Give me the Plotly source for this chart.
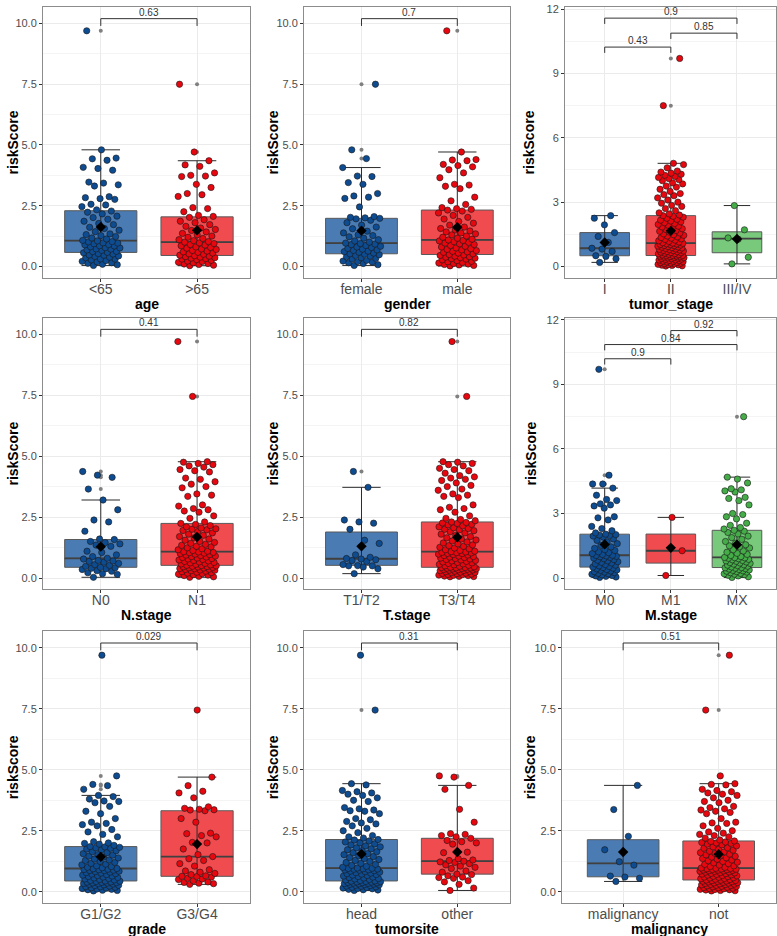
import numpy as np
import plotly.graph_objects as go
from plotly.subplots import make_subplots

# ---------------- data (riskScore per group) ----------------
age_lt65 = [0.04,0.07,0.09,0.13,0.15,0.19,0.21,0.24,0.27,0.30,0.31,0.36,0.38,0.41,0.43,0.46,0.47,0.51,0.53,0.56,
            0.58,0.61,0.62,0.66,0.68,0.71,0.72,0.76,0.77,0.81,0.84,0.85,0.89,0.90,0.93,0.96,0.97,1.01,1.02,1.05,
            1.07,1.13,1.17,1.23,1.27,1.31,1.34,1.43,1.49,1.56,1.61,1.72,1.77,1.86,1.94,2.01,2.07,2.16,2.23,2.28,
            2.33,2.46,2.53,2.56,2.76,2.79,2.83,2.87,3.31,3.36,3.43,3.47,3.96,4.03,4.08,4.37,4.43,4.46,4.80,9.70]
age_gt65 = [0.03,0.05,0.08,0.10,0.12,0.15,0.17,0.20,0.22,0.25,0.28,0.30,0.32,0.34,0.36,0.38,0.40,0.42,0.44,
            0.46,0.50,0.52,0.55,0.58,0.60,0.63,0.66,0.70,0.72,0.75,0.78,0.80,0.85,0.88,0.90,0.94,0.97,1.00,
            1.02,1.06,1.10,1.15,1.20,1.25,1.30,1.36,1.42,1.48,1.52,1.58,1.65,1.72,1.80,1.86,1.92,2.02,2.06,
            2.10,2.25,2.38,2.42,2.88,2.95,3.00,3.25,3.38,3.70,3.72,3.75,3.85,4.12,4.18,4.35,4.71,7.50]
gender_female = [0.04,0.07,0.12,0.15,0.18,0.20,0.22,0.25,0.30,0.33,0.36,0.40,0.42,0.45,0.48,0.50,0.52,
                 0.55,0.58,0.61,0.63,0.66,0.68,0.71,0.74,0.78,0.80,0.83,0.86,0.90,0.92,0.94,0.96,
                 1.00,1.05,1.10,1.16,1.22,1.27,1.30,1.38,1.45,1.55,1.62,1.70,1.80,1.90,1.96,1.98,
                 2.00,2.02,2.05,2.45,2.80,2.85,2.90,3.00,3.38,3.45,3.70,3.72,4.07,4.44,4.80,7.50]
gender_male = [0.02,0.04,0.06,0.08,0.10,0.12,0.14,0.16,0.19,0.21,0.24,0.27,0.30,0.32,0.34,0.36,0.38,0.40,0.42,0.45,0.47,
               0.49,0.52,0.55,0.58,0.60,0.62,0.65,0.68,0.70,0.73,0.76,0.80,0.83,0.86,0.90,0.93,0.96,0.99,1.02,1.05,1.07,
               1.09,1.12,1.16,1.20,1.25,1.30,1.34,1.38,1.42,1.46,1.50,1.56,1.62,1.70,1.78,1.85,1.95,2.02,2.10,2.20,2.28,
               2.32,2.35,2.38,2.42,2.55,2.70,2.85,3.20,3.30,3.35,3.38,3.65,3.85,3.98,4.10,4.15,4.20,4.35,4.38,4.40,4.71,9.70]
stage_I = [0.19,0.36,0.47,0.50,0.70,0.81,0.85,1.12,1.40,1.58,1.94,2.25,2.37]
stage_II = [0.02,0.03,0.05,0.06,0.08,0.09,0.10,0.12,0.13,0.15,0.16,0.18,0.19,0.21,0.22,0.24,0.25,0.27,0.28,0.30,
            0.31,0.33,0.34,0.36,0.37,0.39,0.40,0.41,0.43,0.44,0.45,0.46,0.48,0.49,0.50,0.51,
            0.52,0.54,0.55,0.57,0.59,0.60,0.62,0.64,0.65,0.67,0.69,0.70,0.72,0.74,0.75,0.77,0.79,0.80,0.82,0.84,
            0.86,0.88,0.90,0.91,0.93,0.95,0.97,0.98,1.00,1.02,1.03,1.05,1.06,1.08,1.09,
            1.11,1.14,1.17,1.20,1.23,1.26,1.29,1.32,1.35,1.38,1.42,1.45,1.48,1.52,1.56,1.60,1.64,1.68,1.72,1.76,
            1.80,1.84,1.88,1.92,1.96,2.00,2.04,2.08,2.12,2.16,2.20,2.25,2.30,2.34,2.37,
            2.40,2.45,2.50,2.60,2.70,2.80,2.85,2.95,3.00,3.10,3.20,3.30,3.35,3.40,3.50,3.60,3.70,3.75,3.85,3.90,
            4.00,4.05,4.10,4.15,4.20,4.25,4.30,4.35,4.40,4.45,4.60,4.75,4.81,7.50,9.70]
stage_III_IV = [0.12,0.43,1.27,1.33,1.71,2.84]
N0 = [0.03,0.15,0.18,0.22,0.28,0.30,0.35,0.38,0.40,0.42,0.44,0.48,0.52,0.55,0.60,0.65,0.68,0.70,0.72,0.78,
      0.81,0.88,0.95,1.05,1.10,1.30,1.35,1.40,1.45,1.50,1.58,1.60,1.92,2.30,2.38,2.80,3.20,3.65,4.13,4.22,4.37]
N1 = [0.03,0.05,0.07,0.10,0.12,0.14,0.16,0.18,0.20,0.22,0.24,0.26,0.28,0.30,0.32,0.33,0.35,0.36,0.38,0.39,
      0.41,0.42,0.43,0.45,0.46,0.47,0.48,0.50,0.51,0.52,
      0.54,0.56,0.58,0.60,0.62,0.64,0.66,0.68,0.70,0.72,0.74,0.76,0.78,0.80,0.82,0.84,0.86,0.88,0.90,0.92,
      0.94,0.96,0.98,1.00,1.02,1.04,1.05,1.07,1.08,
      1.10,1.13,1.16,1.20,1.24,1.28,1.30,1.34,1.38,1.42,1.46,1.50,1.55,1.60,1.65,1.70,1.75,1.80,1.85,1.90,
      1.95,1.98,2.00,2.02,2.05,2.10,2.15,2.20,2.24,
      2.30,2.45,2.55,2.70,2.75,2.80,2.85,2.95,3.00,3.35,3.40,3.45,3.70,3.75,3.85,3.95,4.05,4.10,4.35,4.40,
      4.45,4.55,4.60,4.65,4.70,4.75,4.77,7.45,9.70]
T1_T2 = [0.18,0.38,0.45,0.50,0.50,0.51,0.55,0.68,0.72,0.75,0.78,0.80,0.85,0.95,1.42,1.55,2.00,2.25,2.30,2.38,3.72,4.37]
T3_T4 = [0.05,0.06,0.07,0.08,0.10,0.11,0.12,0.14,0.15,0.16,0.18,0.19,0.20,0.22,0.23,0.24,0.26,0.27,0.28,0.30,
         0.31,0.32,0.33,0.34,0.35,0.36,0.37,0.38,0.39,0.40,0.41,0.42,0.43,0.43,0.44,
         0.46,0.48,0.50,0.52,0.54,0.56,0.58,0.60,0.62,0.64,0.66,0.68,0.70,0.72,0.74,0.76,0.78,0.80,0.82,0.84,
         0.86,0.88,0.90,0.92,0.94,0.96,0.98,1.00,1.01,1.03,1.04,1.05,1.07,1.08,
         1.10,1.13,1.16,1.20,1.23,1.26,1.30,1.33,1.36,1.40,1.44,1.48,1.52,1.56,1.60,1.65,1.70,1.75,1.80,1.85,
         1.90,1.94,1.98,2.00,2.03,2.06,2.10,2.14,2.18,2.20,2.24,2.26,2.28,2.30,
         2.35,2.40,2.45,2.55,2.70,2.80,2.85,2.90,3.00,3.30,3.35,3.40,3.45,3.60,3.65,3.75,3.80,3.90,4.00,4.05,
         4.10,4.15,4.20,4.30,4.40,4.45,4.50,4.60,4.65,4.70,4.75,4.77,7.45,9.70]
M0 = [0.03,0.05,0.08,0.10,0.12,0.15,0.18,0.20,0.22,0.25,0.28,0.30,0.33,0.36,0.38,0.40,0.43,0.46,0.49,0.51,
      0.54,0.57,0.60,0.63,0.66,0.70,0.73,0.76,0.80,0.83,0.86,0.90,0.93,0.96,0.99,1.01,1.03,1.05,1.06,
      1.10,1.14,1.18,1.22,1.28,1.32,1.38,1.45,1.52,1.60,1.68,1.75,1.82,1.90,1.95,1.98,2.00,2.02,2.04,
      2.10,2.20,2.30,2.40,2.70,2.80,2.85,3.25,3.35,3.40,3.45,3.60,3.65,3.85,4.18,4.37,4.37,4.78,9.70]
M1 = [0.12,1.27,2.82]
MX = [0.03,0.06,0.10,0.13,0.16,0.18,0.20,0.22,0.25,0.28,0.30,0.32,0.34,0.36,0.38,0.40,0.42,0.44,0.46,0.48,0.49,
      0.52,0.55,0.58,0.60,0.62,0.65,0.68,0.70,0.72,0.75,0.78,0.80,0.82,0.85,0.87,0.90,0.92,0.94,0.95,0.96,
      1.00,1.05,1.10,1.15,1.20,1.26,1.32,1.40,1.45,1.50,1.55,1.62,1.70,1.80,1.88,1.95,2.05,2.12,2.18,2.22,
      2.28,2.35,2.45,2.55,2.75,2.85,2.95,3.00,3.40,3.60,3.70,3.75,4.00,4.05,4.10,4.15,4.42,4.60,4.69,7.50]
G1_G2 = [0.03,0.05,0.06,0.08,0.10,0.11,0.13,0.15,0.16,0.18,0.20,0.21,0.23,0.25,0.26,0.28,0.30,0.31,0.33,0.34,
         0.35,0.36,0.37,0.38,0.39,0.40,0.42,0.43,0.44,
         0.46,0.48,0.50,0.52,0.54,0.56,0.58,0.60,0.62,0.64,0.66,0.68,0.70,0.72,0.74,0.76,0.78,0.80,0.82,0.84,
         0.86,0.87,0.88,0.90,0.91,0.92,0.94,0.95,
         0.98,1.00,1.03,1.06,1.10,1.13,1.16,1.20,1.24,1.28,1.30,1.34,1.38,1.42,1.46,1.50,1.52,1.56,1.60,1.64,
         1.68,1.72,1.75,1.78,1.80,1.82,1.84,1.85,
         1.90,1.95,1.98,2.00,2.05,2.25,2.35,2.45,2.55,2.70,2.75,2.80,2.85,3.00,3.20,3.30,3.50,3.65,3.70,3.72,
         3.80,3.90,3.95,4.20,4.35,4.40,4.75,9.70]
G3_G4 = [0.30,0.33,0.35,0.38,0.40,0.45,0.50,0.52,0.55,0.60,0.62,0.63,
         0.65,0.70,0.75,0.80,0.85,0.90,1.05,1.15,1.28,1.35,1.44,
         1.52,1.75,2.00,2.02,2.25,2.30,2.38,2.40,2.85,3.00,3.32,
         3.35,3.36,3.38,3.42,3.48,3.85,4.05,4.12,4.35,4.70,7.45]
site_head = [0.05,0.07,0.08,0.10,0.12,0.13,0.15,0.17,0.18,0.20,0.22,0.23,0.25,0.26,0.28,0.29,0.30,0.31,0.32,0.33,
             0.34,0.35,0.36,0.37,0.38,0.39,0.40,0.41,0.42,0.43,0.44,
             0.46,0.48,0.50,0.52,0.54,0.56,0.58,0.60,0.62,0.64,0.66,0.68,0.70,0.72,0.74,0.76,0.78,0.80,0.82,0.84,
             0.86,0.88,0.89,0.90,0.92,0.93,0.94,0.95,0.96,0.97,
             1.00,1.04,1.08,1.12,1.16,1.20,1.24,1.28,1.32,1.36,1.40,1.44,1.48,1.52,1.56,1.60,1.64,1.68,1.72,1.76,
             1.80,1.84,1.88,1.92,1.96,2.00,2.04,2.08,2.12,2.14,
             2.20,2.25,2.30,2.42,2.50,2.60,2.70,2.78,2.82,2.88,2.95,3.00,3.20,3.30,3.32,3.35,3.40,3.45,3.70,3.75,
             3.85,3.95,4.00,4.05,4.10,4.15,4.38,4.43,7.45,9.70]
site_other = [0.05,0.15,0.30,0.40,0.45,0.55,0.58,0.60,0.65,0.70,0.72,
              0.80,0.85,0.95,1.00,1.05,1.10,1.15,1.20,1.22,1.25,
              1.28,1.30,1.35,1.60,1.62,1.95,2.00,2.05,2.10,2.19,
              2.25,2.30,2.35,2.38,2.85,3.38,4.20,4.36,4.70,4.75]
malig_yes = [0.42,0.55,0.60,0.64,1.09,1.23,1.72,2.27,3.37,4.36]
malig_not = [0.03,0.04,0.05,0.07,0.08,0.09,0.10,0.12,0.13,0.14,0.16,0.17,0.18,0.20,0.21,0.22,0.24,0.25,0.26,0.28,
             0.29,0.30,0.31,0.32,0.34,0.35,0.36,0.37,0.38,0.40,0.41,0.42,0.43,0.44,0.45,0.46,0.47,0.48,
             0.50,0.51,0.53,0.54,0.56,0.57,0.59,0.60,0.62,0.63,0.65,0.66,0.68,0.69,0.71,0.72,0.74,0.75,0.77,0.78,
             0.80,0.81,0.83,0.84,0.85,0.86,0.87,0.88,0.89,0.90,0.91,0.92,0.93,0.94,0.95,0.96,0.97,
             1.00,1.03,1.06,1.09,1.12,1.15,1.18,1.21,1.24,1.27,1.30,1.33,1.36,1.39,1.42,1.45,1.48,1.51,1.54,1.57,
             1.60,1.63,1.66,1.70,1.74,1.78,1.80,1.84,1.88,1.92,1.95,1.98,2.00,2.02,2.04,2.06,2.08,
             2.12,2.20,2.25,2.30,2.35,2.40,2.45,2.50,2.60,2.70,2.80,2.82,2.85,3.00,3.20,3.25,3.30,3.35,3.40,3.45,
             3.50,3.65,3.70,3.75,3.85,3.95,4.00,4.05,4.10,4.15,4.20,4.38,4.40,4.43,4.75,7.45,9.70]

# panel definitions: variable name, category labels, groups, comparisons (i, j, p-value label)
variables = ["age", "gender", "tumor_stage", "N.stage", "T.stage", "M.stage", "grade", "tumorsite", "malignancy"]
categories = [["<65", ">65"], ["female", "male"], ["I", "II", "III/IV"],
              ["N0", "N1"], ["T1/T2", "T3/T4"], ["M0", "M1", "MX"],
              ["G1/G2", "G3/G4"], ["head", "other"], ["malignancy", "not"]]
groups = [[age_lt65, age_gt65], [gender_female, gender_male], [stage_I, stage_II, stage_III_IV],
          [N0, N1], [T1_T2, T3_T4], [M0, M1, MX],
          [G1_G2, G3_G4], [site_head, site_other], [malig_yes, malig_not]]
comparisons = [[(1, 2, "0.63")], [(1, 2, "0.7")], [(1, 2, "0.43"), (2, 3, "0.85"), (1, 3, "0.9")],
               [(1, 2, "0.41")], [(1, 2, "0.82")], [(1, 2, "0.9"), (1, 3, "0.84"), (2, 3, "0.92")],
               [(1, 2, "0.029")], [(1, 2, "0.31")], [(1, 2, "0.51")]]

# ---------------- layout / style ----------------
W, H = 777, 936
PANEL_PX = [(43, 250, 3, 275), (304, 510, 3, 275), (565, 776, 3, 275),
            (43, 250, 315, 588), (304, 510, 315, 588), (565, 776, 315, 588),
            (43, 250, 630, 903), (304, 510, 630, 903), (562, 776, 630, 903)]
XRANGES = [[0.4, 2.55], [0.4, 2.55], [0.4, 3.59], [0.4, 2.55], [0.4, 2.55], [0.4, 3.59],
           [0.4, 2.55], [0.4, 2.55], [0.36, 2.6]]
BRACKET_Y = [[10.2], [10.2], [10.23, 10.88, 11.58], [10.2], [10.2], [10.19, 10.85, 11.5],
             [10.2], [10.2], [10.2]]
YTITLE_X = [13, 273, 529, 13, 273, 531, 13, 273, 530]
POINT_COL = ["#0E4C92", "#E8070F", "#45AD48"]
BOX_COL = ["#4A7BB3", "#F04C50", "#78C97B"]
FONT = "Liberation Sans, Arial, sans-serif"
BOXW = 0.75
JIT = 0.2

fig = make_subplots(rows=3, cols=3)


def offsets(n):
    return [((k * 0.6180339887 + 0.31) % 1.0 - 0.5) * 2 * JIT for k in range(n)]


annotations = []
shapes = []
for p in range(9):
    r, c = p // 3 + 1, p % 3 + 1
    l, rr, t, b = PANEL_PX[p]
    cats = categories[p]
    k = len(cats)
    three = k == 3
    xr = XRANGES[p]
    ppu = (rr - l) / (xr[1] - xr[0])
    for gi, vals in enumerate(groups[p]):
        v = np.array(vals, dtype=float)
        xc = gi + 1
        q1, med, q3 = np.percentile(v, [25, 50, 75])
        iqr = q3 - q1
        inside = v[(v >= q1 - 1.5 * iqr) & (v <= q3 + 1.5 * iqr)]
        lo, hi = inside.min(), inside.max()
        outl = v[(v < q1 - 1.5 * iqr) | (v > q3 + 1.5 * iqr)]
        fig.add_trace(go.Box(x=[xc], q1=[q1], median=[med], q3=[q3], lowerfence=[q1], upperfence=[q3],
                             width=BOXW, fillcolor=BOX_COL[gi], line=dict(color="#595959", width=1),
                             whiskerwidth=0, boxpoints=False, hoverinfo="skip", showlegend=False),
                      row=r, col=c)
        if len(outl):
            fig.add_trace(go.Scatter(x=[xc] * len(outl), y=outl, mode="markers",
                                     marker=dict(size=4, color="#808080"), hoverinfo="skip",
                                     showlegend=False), row=r, col=c)
        fig.add_trace(go.Scatter(x=[xc], y=[med], mode="markers",
                                 marker=dict(size=1, color="rgba(0,0,0,0)"),
                                 error_y=dict(type="data", symmetric=False, array=[hi - med],
                                              arrayminus=[med - lo], color="#2b2b2b", thickness=1,
                                              width=0.2 * ppu),
                                 error_x=dict(type="data", array=[BOXW / 2], color="#404040",
                                              thickness=1.8, width=0),
                                 hoverinfo="skip", showlegend=False), row=r, col=c)
        fig.add_trace(go.Scatter(x=xc + np.array(offsets(len(v))), y=v, mode="markers",
                                 marker=dict(size=6.3, color=POINT_COL[gi],
                                             line=dict(color="#1a1a1a", width=0.6)),
                                 hoverinfo="skip", showlegend=False), row=r, col=c)
        fig.add_trace(go.Scatter(x=[xc], y=[v.mean()], mode="markers",
                                 marker=dict(symbol="diamond", size=8, color="black"),
                                 hoverinfo="skip", showlegend=False), row=r, col=c)

    sfx = "" if p == 0 else str(p + 1)
    xa, ya = "xaxis" + sfx, "yaxis" + sfx
    fig.layout[xa].update(domain=[l / W, rr / W], range=xr, tickvals=list(range(1, k + 1)), ticktext=cats,
                          showgrid=True, gridcolor="#ebebeb", gridwidth=1, zeroline=False,
                          showline=True, mirror=True, linecolor="#8c8c8c", linewidth=1,
                          ticks="outside", ticklen=3, tickcolor="#333333", ticklabelstandoff=-5,
                          tickfont=dict(size=14, color="#4d4d4d", family=FONT))
    if three:
        yr, tv, tt, mdt = [-0.53, 12.1], [0, 3, 6, 9, 12], ["0", "3", "6", "9", "12"], 1.5
        tip = 0.27
    else:
        yr, tv, tt, mdt = [-0.47, 10.68], [0, 2.5, 5, 7.5, 10], ["0.0", "2.5", "5.0", "7.5", "10.0"], 1.25
        tip = 0.3
    fig.layout[ya].update(domain=[1 - b / H, 1 - t / H], range=yr, tickvals=tv, ticktext=tt,
                          showgrid=True, gridcolor="#ebebeb", gridwidth=1, zeroline=False,
                          minor=dict(tick0=0, dtick=mdt, showgrid=True, gridcolor="#f4f4f4", gridwidth=0.6,
                                     ticklen=0),
                          showline=True, mirror=True, linecolor="#8c8c8c", linewidth=1,
                          ticks="outside", ticklen=3, tickcolor="#333333",
                          tickfont=dict(size=11, color="#4d4d4d", family=FONT))
    xref, yref = "x" + sfx, "y" + sfx
    for (i, j, lab), hy in zip(comparisons[p], BRACKET_Y[p]):
        shapes.append(dict(type="path", xref=xref, yref=yref,
                           path=f"M {i},{hy - tip} L {i},{hy} L {j},{hy} L {j},{hy - tip}",
                           line=dict(color="#333333", width=1)))
        annotations.append(dict(x=(i + j) / 2, y=hy, xref=xref, yref=yref, text=lab, showarrow=False,
                                yanchor="bottom", yshift=-1, font=dict(size=10, color="#333333", family=FONT)))
    annotations.append(dict(x=(l + rr) / 2 / W, y=1 - (b + 26) / H, xref="paper", yref="paper",
                            text="<b>" + variables[p] + "</b>", showarrow=False, xanchor="center",
                            yanchor="middle", font=dict(size=14, color="black", family=FONT)))
    annotations.append(dict(x=YTITLE_X[p] / W, y=1 - (t + b) / 2 / H, xref="paper", yref="paper",
                            text="<b>riskScore</b>", showarrow=False, textangle=-90, xanchor="center",
                            yanchor="middle", font=dict(size=14, color="black", family=FONT)))

fig.update_layout(width=W, height=H, margin=dict(l=0, r=0, t=0, b=0), paper_bgcolor="white",
                  plot_bgcolor="white", showlegend=False, boxmode="overlay",
                  annotations=annotations, shapes=shapes, font=dict(family=FONT))
fig.write_html("out.html", config={"displayModeBar": False},
               post_script="document.body.style.margin='0';document.body.style.overflow='hidden';")
